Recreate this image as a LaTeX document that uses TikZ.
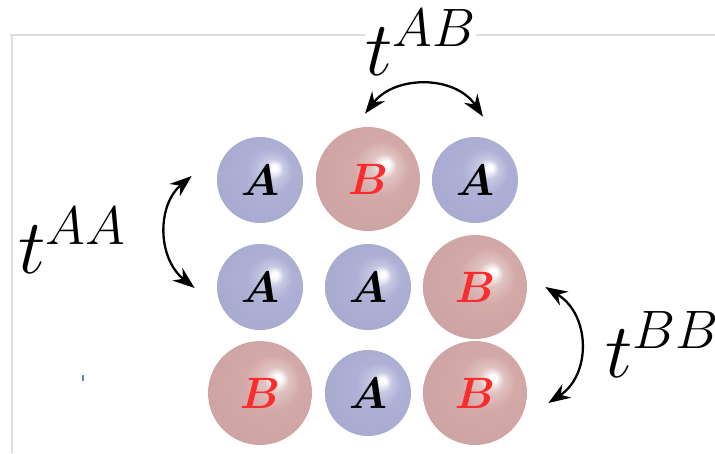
\documentclass[tikz,border=0pt]{standalone}
\usepackage{fix-cm}
\usepackage{xcolor}
\usepackage{tikz}
\usepackage{amsmath}
\usepackage{amssymb}
\definecolor{ballblue}{RGB}{174, 176, 214}
\definecolor{ballred}{RGB}{212, 170, 169}
\definecolor{labelred}{RGB}{250, 45, 45}
\definecolor{framegray}{RGB}{222, 222, 222}
\definecolor{tickblue}{RGB}{90, 130, 200}
\usetikzlibrary{shapes, arrows.meta, positioning, calc}
\pgfdeclareradialshading{blueball}{\pgfpoint{9bp}{7.5bp}}{color(0bp)=(white); color(1.5bp)=(white); color(6bp)=(ballblue!70!white); color(13bp)=(ballblue); color(40bp)=(ballblue!94!black)}
\pgfdeclareradialshading{redball}{\pgfpoint{9bp}{7.5bp}}{color(0bp)=(white); color(1.5bp)=(white); color(6bp)=(ballred!70!white); color(13bp)=(ballred); color(40bp)=(ballred!94!black)}

\begin{document}
\begin{tikzpicture}[
    x=0.02cm, y=-0.02cm,
    aatom/.style={circle, inner sep=0pt, minimum size=1.72cm, shading=blueball, font=\fontsize{25}{28}\selectfont},
    batom/.style={circle, inner sep=0pt, minimum size=2.08cm, shading=redball, font=\fontsize{25}{28}\selectfont, text=labelred},
    hop/.style={<->, line width=1.3pt, >={Stealth[length=4.4mm, width=3.2mm]}},
    hoplabel/.style={inner sep=0pt, anchor=base west, font=\fontsize{44}{48}\selectfont}
]
    \useasboundingbox (0, 0) rectangle (715, 453);

    % faint frame
    \draw[framegray, line width=0.6pt] (10, 35) -- (715, 35);
    \draw[framegray, line width=0.6pt] (12, 35) -- (12, 453);
    \draw[tickblue, line width=0.6pt] (83, 375) -- (83, 381);

    % lattice
    \node[aatom] (a11) at (260, 180) {$\boldsymbol{A}$};
    \node[batom] (b12) at (368, 179) {$\boldsymbol{B}$};
    \node[aatom] (a13) at (475, 180) {$\boldsymbol{A}$};
    \node[aatom] (a21) at (260, 287) {$\boldsymbol{A}$};
    \node[aatom] (a22) at (368, 287) {$\boldsymbol{A}$};
    \node[batom] (b23) at (475, 287) {$\boldsymbol{B}$};
    \node[batom] (b31) at (260, 393) {$\boldsymbol{B}$};
    \node[aatom] (a32) at (368, 393) {$\boldsymbol{A}$};
    \node[batom] (b33) at (475, 393) {$\boldsymbol{B}$};

    % hoppings
    \draw[hop] ($(b12.north)+(-3, -13)$) .. controls (395, 75) and (455, 75) .. ($(a13.north)+(8, -20)$);
    \draw[hop] ($(a11.west)+(-25, -4)$) .. controls (157, 205) and (157, 258) .. ($(a21.west)+(-22, 1)$);
    \draw[hop] ($(b23.east)+(18, 0)$) .. controls (591, 315) and (591, 375) .. ($(b33.east)+(21, 10)$);

    \node[hoplabel, fill=white] (tab) at (365, 75) {$t^{AB}$};
    \node[hoplabel] (taa) at (18, 273) {$t^{AA}$};
    \node[hoplabel] (tbb) at (605, 377) {$t^{BB}$};
\end{tikzpicture}
\end{document}
